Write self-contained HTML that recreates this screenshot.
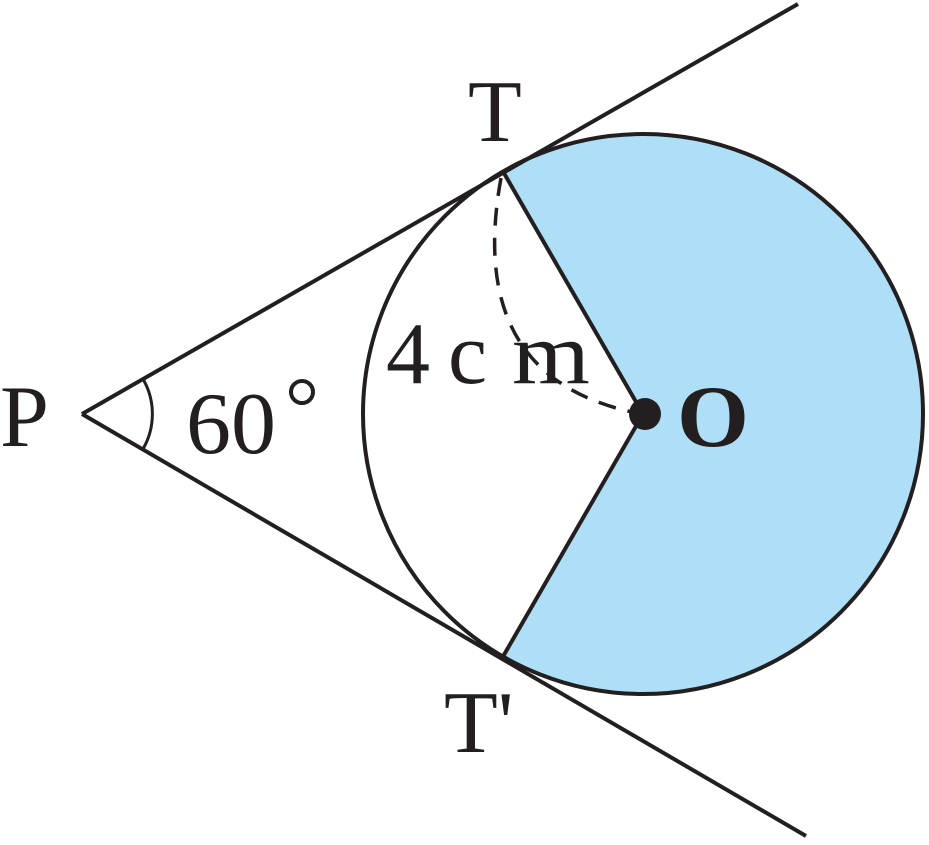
<!DOCTYPE html>
<html><head><style>html,body{margin:0;padding:0;background:#fff}</style></head>
<body>
<svg width="929" height="840" viewBox="0 0 929 840" xmlns="http://www.w3.org/2000/svg">
<path d="M643,414 L503,171.5 A280,280 0 1 1 503,656.5 Z" fill="#aedff7"/>
<circle cx="643" cy="414" r="280" fill="none" stroke="#231f20" stroke-width="4"/>
<line x1="82" y1="414" x2="798" y2="4" stroke="#231f20" stroke-width="4"/>
<line x1="82" y1="414" x2="806" y2="836" stroke="#231f20" stroke-width="4"/>
<line x1="503" y1="171.5" x2="643" y2="414" stroke="#231f20" stroke-width="4"/>
<line x1="503" y1="656.5" x2="643" y2="414" stroke="#231f20" stroke-width="4"/>
<path d="M501,178 Q465,375 632,412" fill="none" stroke="#231f20" stroke-width="3.5" stroke-dasharray="18,12"/>
<path d="M143,379 A70,70 0 0 1 143,449" fill="none" stroke="#231f20" stroke-width="3"/>
<circle cx="645" cy="414" r="16" fill="#231f20"/>
<circle cx="302" cy="392" r="11" fill="none" stroke="#231f20" stroke-width="4"/>
<g font-family="'Liberation Serif', serif" fill="#231f20" font-size="88">
<text x="468" y="141">T</text>
<text x="0" y="446">P</text>
<text x="186" y="453" textLength="90" lengthAdjust="spacingAndGlyphs">60</text>
<text x="386" y="383">4</text>
<text x="448" y="383">c</text>
<text x="512" y="383" textLength="78" lengthAdjust="spacingAndGlyphs">m</text>
<text x="677" y="446" font-weight="bold" textLength="72" lengthAdjust="spacingAndGlyphs">O</text>
<text x="444" y="752">T'</text>
</g>
</svg>
</body></html>
